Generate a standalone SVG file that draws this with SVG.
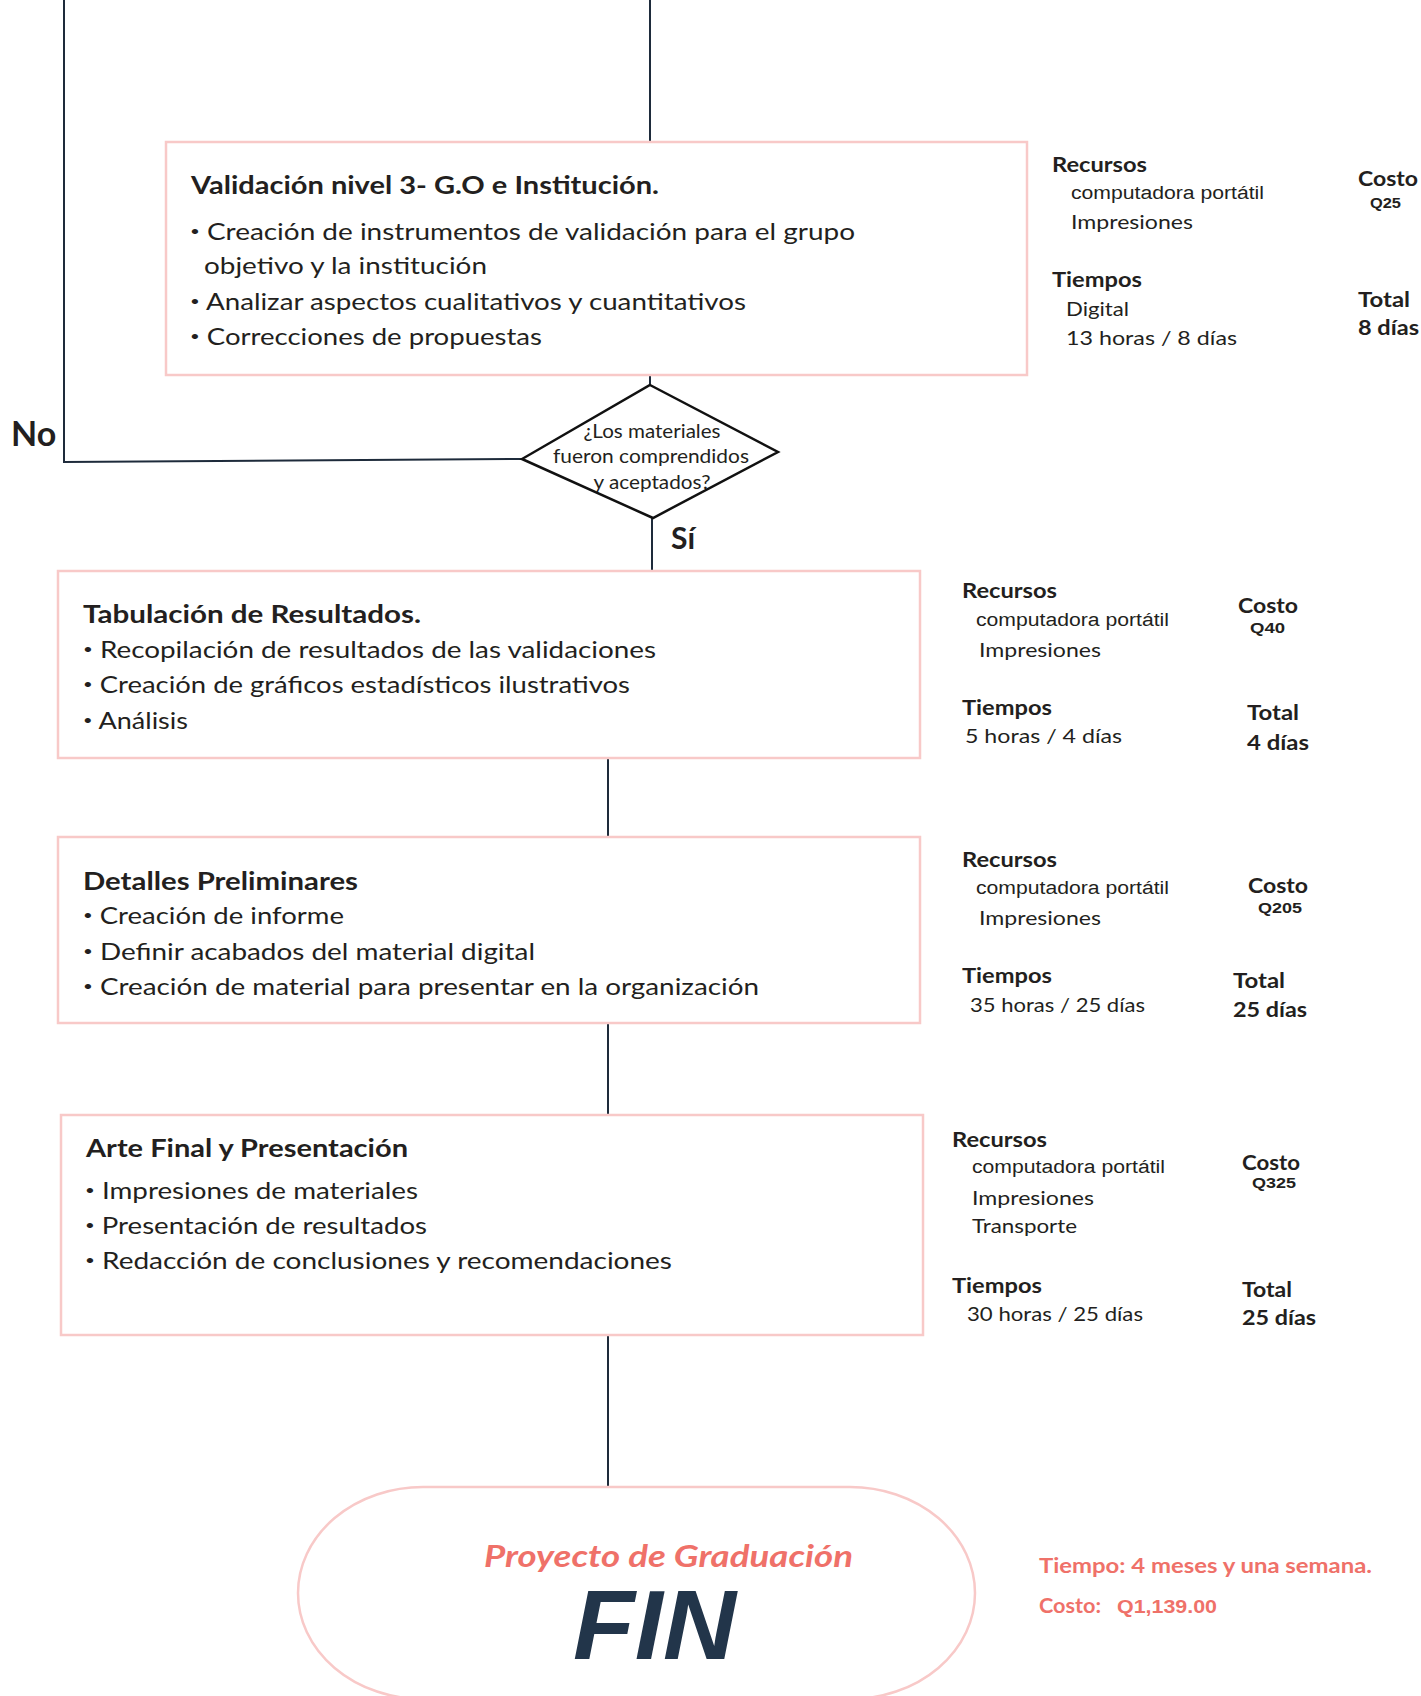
<svg xmlns="http://www.w3.org/2000/svg" width="1421" height="1696" viewBox="0 0 1421 1696">
  <style>
    .conn { fill: none; stroke: #1e2b3b; stroke-width: 2; }
    .box { fill: #ffffff; stroke: #f8c9c8; stroke-width: 2.5; }
    .dec { fill: #ffffff; stroke: #111111; stroke-width: 2.5; stroke-linejoin: miter; }
    .ttl { font-family: Lato, "Open Sans", sans-serif; font-weight: 700; font-size: 25px; fill: #231f20; }
    .itm { font-family: Lato, "Open Sans", sans-serif; font-size: 23px; fill: #231f20; }
    .bul { font-size: 14px; }
    .hd { font-family: Lato, "Open Sans", sans-serif; font-weight: 700; font-size: 21px; fill: #231f20; }
    .tx { font-family: Lato, "Open Sans", sans-serif; font-size: 20px; fill: #231f20; }
    .ar { font-family: "Liberation Sans", Arial, sans-serif; font-size: 18px; fill: #231f20; }
    .q { font-family: "Liberation Sans", Arial, sans-serif; font-weight: 700; font-size: 14px; fill: #231f20; }
    .dq { font-family: Lato, "Open Sans", sans-serif; font-size: 19px; fill: #231f20; text-anchor: middle; }
    .lbl { font-family: Lato, "Open Sans", sans-serif; font-weight: 700; fill: #231f20; }
    .sal { font-family: Lato, "Open Sans", sans-serif; font-weight: 700; fill: #ef7169; }
  </style>

  <!-- connectors -->
  <g id="connectors">
    <path class="conn" d="M64,0 L64,462 L522,459"/>
    <path class="conn" d="M650,0 V142"/>
    <path class="conn" d="M650,375 V385"/>
    <path class="conn" d="M652,518 V571"/>
    <path class="conn" d="M608,758 V837"/>
    <path class="conn" d="M608,1023 V1115"/>
    <path class="conn" d="M608,1335 V1487"/>
  </g>

  <!-- branch labels -->
  <g id="labels">
    <text class="lbl" x="11" y="446" font-size="34">No</text>
    <text class="lbl" x="671" y="549" font-size="30">Sí</text>
  </g>

  <!-- step: validation level 3 -->
  <g id="node-validacion">
    <rect class="box" x="166" y="142" width="861" height="233"/>
    <text class="ttl" x="191" y="194" textLength="468" lengthAdjust="spacingAndGlyphs">Validación nivel 3- G.O e Institución.</text>
    <text class="itm" x="190" y="240" textLength="665" lengthAdjust="spacingAndGlyphs"><tspan class="bul" dy="-4">•</tspan><tspan dy="4"> Creación de instrumentos de validación para el grupo</tspan></text>
    <text class="itm" x="204" y="274" textLength="283" lengthAdjust="spacingAndGlyphs">objetivo y la institución</text>
    <text class="itm" x="190" y="310" textLength="556" lengthAdjust="spacingAndGlyphs"><tspan class="bul" dy="-4">•</tspan><tspan dy="4"> Analizar aspectos cualitativos y cuantitativos</tspan></text>
    <text class="itm" x="190" y="345" textLength="352" lengthAdjust="spacingAndGlyphs"><tspan class="bul" dy="-4">•</tspan><tspan dy="4"> Correcciones de propuestas</tspan></text>
  </g>
  <g id="info-validacion">
    <text class="hd" x="1052" y="172" textLength="95" lengthAdjust="spacingAndGlyphs">Recursos</text>
    <text class="ar" x="1071" y="199" textLength="193" lengthAdjust="spacingAndGlyphs">computadora portátil</text>
    <text class="tx" x="1071" y="229" textLength="122" lengthAdjust="spacingAndGlyphs">Impresiones</text>
    <text class="hd" x="1052" y="287" textLength="90" lengthAdjust="spacingAndGlyphs">Tiempos</text>
    <text class="tx" x="1066" y="316" textLength="63" lengthAdjust="spacingAndGlyphs">Digital</text>
    <text class="tx" x="1066" y="345" textLength="171" lengthAdjust="spacingAndGlyphs">13  horas /  8 días</text>
    <text class="hd" x="1358" y="186" textLength="60" lengthAdjust="spacingAndGlyphs">Costo</text>
    <text class="q" x="1370" y="208" textLength="31" lengthAdjust="spacingAndGlyphs">Q25</text>
    <text class="hd" x="1358" y="307" textLength="52" lengthAdjust="spacingAndGlyphs">Total</text>
    <text class="hd" x="1358" y="335" textLength="61" lengthAdjust="spacingAndGlyphs">8 días</text>
  </g>

  <!-- decision -->
  <g id="node-decision">
    <polygon class="dec" points="650,385 778,452 653,518 522,459"/>
    <text class="dq" x="652" y="438" textLength="137" lengthAdjust="spacingAndGlyphs">¿Los materiales</text>
    <text class="dq" x="651" y="463" textLength="196" lengthAdjust="spacingAndGlyphs">fueron comprendidos</text>
    <text class="dq" x="652" y="489" textLength="117" lengthAdjust="spacingAndGlyphs">y aceptados?</text>
  </g>

  <!-- step: tabulation -->
  <g id="node-tabulacion">
    <rect class="box" x="58" y="571" width="862" height="187"/>
    <text class="ttl" x="83" y="623" textLength="338" lengthAdjust="spacingAndGlyphs">Tabulación de Resultados.</text>
    <text class="itm" x="83" y="658" textLength="573" lengthAdjust="spacingAndGlyphs"><tspan class="bul" dy="-4">•</tspan><tspan dy="4"> Recopilación de resultados de las validaciones</tspan></text>
    <text class="itm" x="83" y="693" textLength="547" lengthAdjust="spacingAndGlyphs"><tspan class="bul" dy="-4">•</tspan><tspan dy="4"> Creación de gráficos estadísticos ilustrativos</tspan></text>
    <text class="itm" x="83" y="729" textLength="105" lengthAdjust="spacingAndGlyphs"><tspan class="bul" dy="-4">•</tspan><tspan dy="4"> Análisis</tspan></text>
  </g>
  <g id="info-tabulacion">
    <text class="hd" x="962" y="598" textLength="95" lengthAdjust="spacingAndGlyphs">Recursos</text>
    <text class="ar" x="976" y="626" textLength="193" lengthAdjust="spacingAndGlyphs">computadora portátil</text>
    <text class="tx" x="979" y="657" textLength="122" lengthAdjust="spacingAndGlyphs">Impresiones</text>
    <text class="hd" x="962" y="715" textLength="90" lengthAdjust="spacingAndGlyphs">Tiempos</text>
    <text class="tx" x="965" y="743" textLength="157" lengthAdjust="spacingAndGlyphs">5  horas /  4 días</text>
    <text class="hd" x="1238" y="613" textLength="60" lengthAdjust="spacingAndGlyphs">Costo</text>
    <text class="q" x="1250" y="633" textLength="35" lengthAdjust="spacingAndGlyphs">Q40</text>
    <text class="hd" x="1247" y="720" textLength="52" lengthAdjust="spacingAndGlyphs">Total</text>
    <text class="hd" x="1247" y="750" textLength="62" lengthAdjust="spacingAndGlyphs">4 días</text>
  </g>

  <!-- step: preliminary details -->
  <g id="node-detalles">
    <rect class="box" x="58" y="837" width="862" height="186"/>
    <text class="ttl" x="83" y="890" textLength="275" lengthAdjust="spacingAndGlyphs">Detalles Preliminares</text>
    <text class="itm" x="83" y="924" textLength="261" lengthAdjust="spacingAndGlyphs"><tspan class="bul" dy="-4">•</tspan><tspan dy="4"> Creación de informe</tspan></text>
    <text class="itm" x="83" y="960" textLength="452" lengthAdjust="spacingAndGlyphs"><tspan class="bul" dy="-4">•</tspan><tspan dy="4"> Definir acabados del material digital</tspan></text>
    <text class="itm" x="83" y="995" textLength="676" lengthAdjust="spacingAndGlyphs"><tspan class="bul" dy="-4">•</tspan><tspan dy="4"> Creación de material para presentar en la organización</tspan></text>
  </g>
  <g id="info-detalles">
    <text class="hd" x="962" y="867" textLength="95" lengthAdjust="spacingAndGlyphs">Recursos</text>
    <text class="ar" x="976" y="894" textLength="193" lengthAdjust="spacingAndGlyphs">computadora portátil</text>
    <text class="tx" x="979" y="925" textLength="122" lengthAdjust="spacingAndGlyphs">Impresiones</text>
    <text class="hd" x="962" y="983" textLength="90" lengthAdjust="spacingAndGlyphs">Tiempos</text>
    <text class="tx" x="970" y="1012" textLength="175" lengthAdjust="spacingAndGlyphs">35 horas /  25 días</text>
    <text class="hd" x="1248" y="893" textLength="60" lengthAdjust="spacingAndGlyphs">Costo</text>
    <text class="q" x="1258" y="913" textLength="44" lengthAdjust="spacingAndGlyphs">Q205</text>
    <text class="hd" x="1233" y="988" textLength="52" lengthAdjust="spacingAndGlyphs">Total</text>
    <text class="hd" x="1233" y="1017" textLength="74" lengthAdjust="spacingAndGlyphs">25 días</text>
  </g>

  <!-- step: final art and presentation -->
  <g id="node-arte">
    <rect class="box" x="61" y="1115" width="862" height="220"/>
    <text class="ttl" x="86" y="1157" textLength="322" lengthAdjust="spacingAndGlyphs">Arte Final y Presentación</text>
    <text class="itm" x="85" y="1199" textLength="333" lengthAdjust="spacingAndGlyphs"><tspan class="bul" dy="-4">•</tspan><tspan dy="4"> Impresiones de materiales</tspan></text>
    <text class="itm" x="85" y="1234" textLength="342" lengthAdjust="spacingAndGlyphs"><tspan class="bul" dy="-4">•</tspan><tspan dy="4"> Presentación de resultados</tspan></text>
    <text class="itm" x="85" y="1269" textLength="587" lengthAdjust="spacingAndGlyphs"><tspan class="bul" dy="-4">•</tspan><tspan dy="4"> Redacción de conclusiones y recomendaciones</tspan></text>
  </g>
  <g id="info-arte">
    <text class="hd" x="952" y="1147" textLength="95" lengthAdjust="spacingAndGlyphs">Recursos</text>
    <text class="ar" x="972" y="1173" textLength="193" lengthAdjust="spacingAndGlyphs">computadora portátil</text>
    <text class="tx" x="972" y="1205" textLength="122" lengthAdjust="spacingAndGlyphs">Impresiones</text>
    <text class="tx" x="972" y="1233" textLength="105" lengthAdjust="spacingAndGlyphs">Transporte</text>
    <text class="hd" x="952" y="1293" textLength="90" lengthAdjust="spacingAndGlyphs">Tiempos</text>
    <text class="tx" x="967" y="1321" textLength="176" lengthAdjust="spacingAndGlyphs">30 horas /  25 días</text>
    <text class="hd" x="1242" y="1170" textLength="58" lengthAdjust="spacingAndGlyphs">Costo</text>
    <text class="q" x="1252" y="1188" textLength="44" lengthAdjust="spacingAndGlyphs">Q325</text>
    <text class="hd" x="1242" y="1297" textLength="50" lengthAdjust="spacingAndGlyphs">Total</text>
    <text class="hd" x="1242" y="1325" textLength="74" lengthAdjust="spacingAndGlyphs">25 días</text>
  </g>

  <!-- terminal -->
  <g id="node-fin">
    <rect x="298" y="1487" width="677" height="212" rx="125" ry="106" fill="#ffffff" stroke="#f8c9c8" stroke-width="2.5"/>
    <text class="sal" x="484" y="1567" font-size="31" font-style="italic" textLength="369" lengthAdjust="spacingAndGlyphs">Proyecto de Graduación</text>
    <text x="573" y="1659" font-family="'Liberation Sans', Arial, sans-serif" font-weight="700" font-style="italic" font-size="98" fill="#22354a" textLength="163" lengthAdjust="spacingAndGlyphs">FIN</text>
  </g>
  <g id="summary">
    <text class="sal" x="1039" y="1573" font-size="20" textLength="333" lengthAdjust="spacingAndGlyphs">Tiempo: 4 meses y una semana.</text>
    <text class="sal" x="1039" y="1613" font-size="20" textLength="62" lengthAdjust="spacingAndGlyphs">Costo:</text>
    <text x="1117" y="1613" font-family="'Liberation Sans', Arial, sans-serif" font-weight="700" font-size="18" fill="#ef7169" textLength="100" lengthAdjust="spacingAndGlyphs">Q1,139.00</text>
  </g>
</svg>
